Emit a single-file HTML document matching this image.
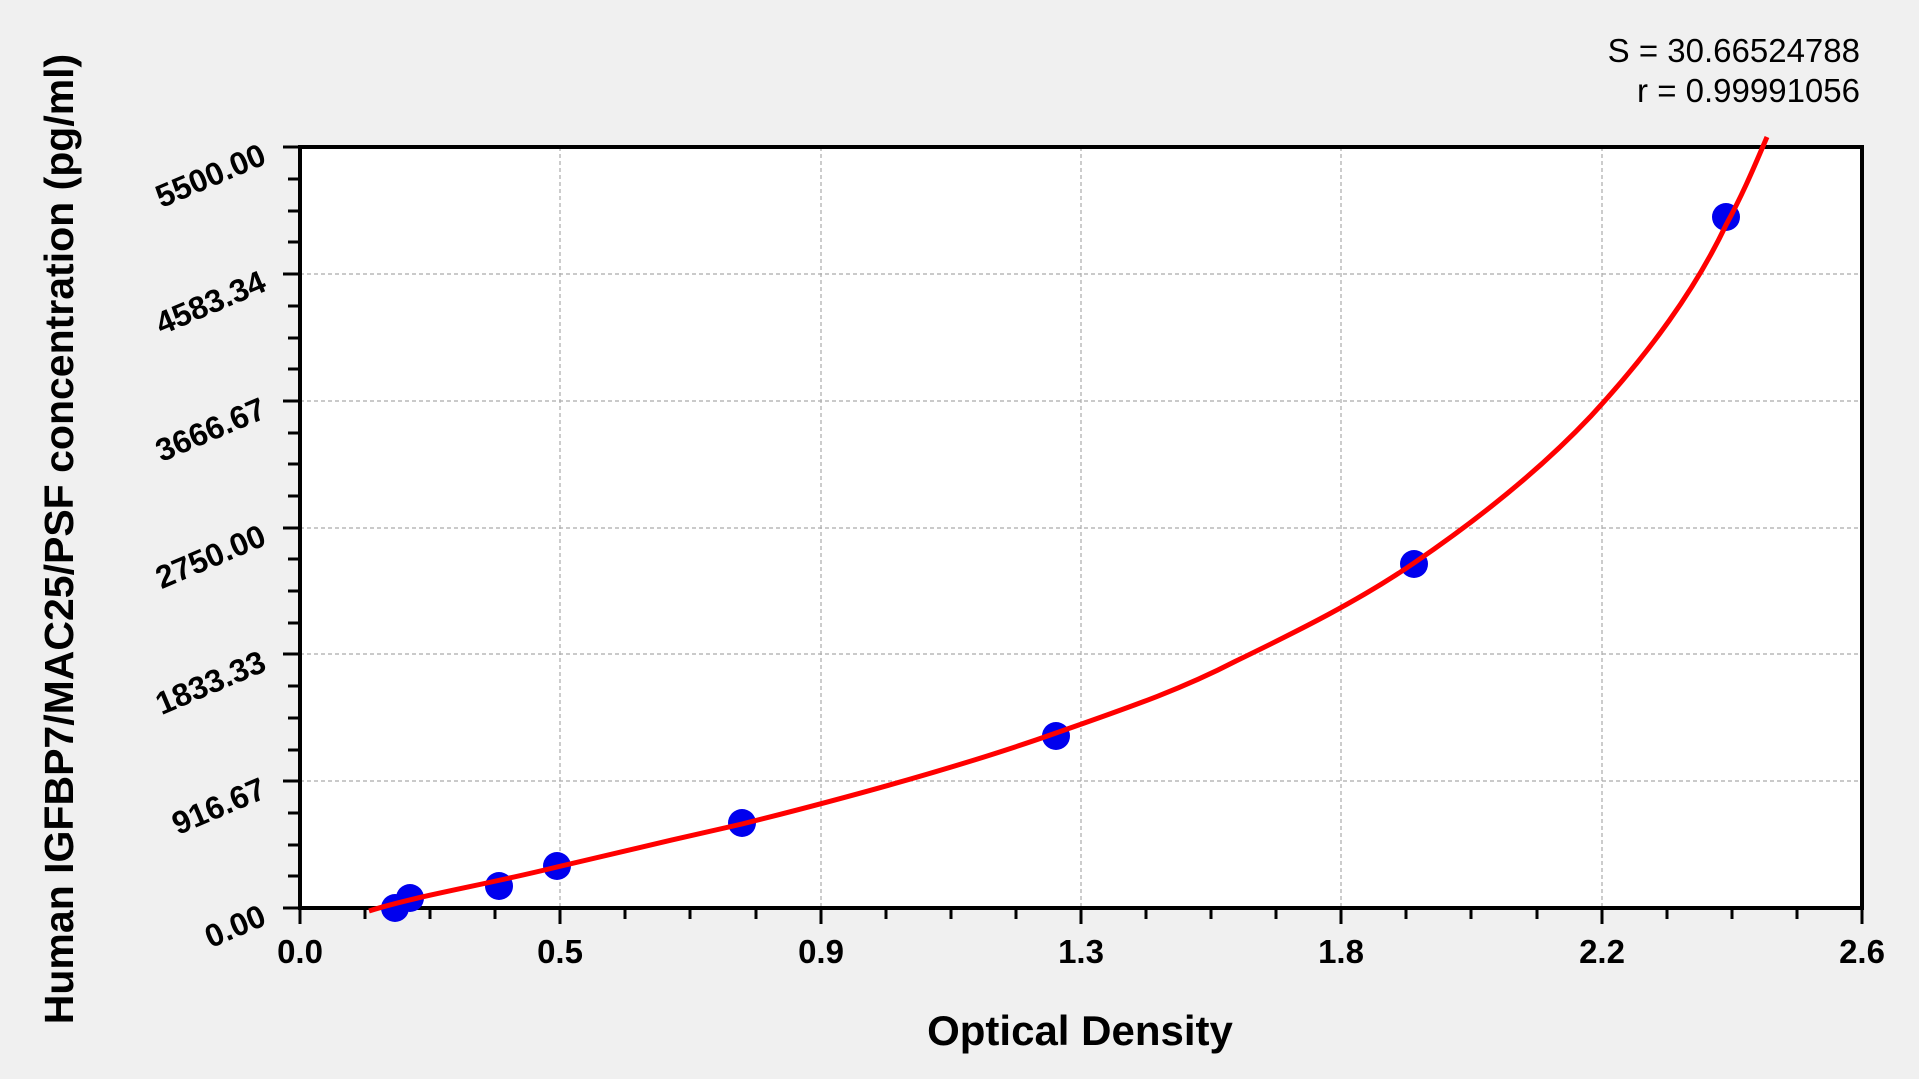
<!DOCTYPE html>
<html><head><meta charset="utf-8"><style>
html,body{margin:0;padding:0;background:#f0f0f0;}
svg{display:block;font-family:"Liberation Sans",sans-serif;}
</style></head><body>
<svg width="1919" height="1079" viewBox="0 0 1919 1079">
<rect x="0" y="0" width="1919" height="1079" fill="#f0f0f0"/>
<rect x="300" y="147" width="1562" height="761" fill="#fff"/>
<g stroke="#aaa" stroke-width="1.2" stroke-dasharray="4,3">
<line x1="560" y1="147" x2="560" y2="908"/><line x1="821" y1="147" x2="821" y2="908"/>
<line x1="1081" y1="147" x2="1081" y2="908"/><line x1="1341" y1="147" x2="1341" y2="908"/>
<line x1="1602" y1="147" x2="1602" y2="908"/>
<line x1="300" y1="274" x2="1862" y2="274"/><line x1="300" y1="401" x2="1862" y2="401"/>
<line x1="300" y1="528" x2="1862" y2="528"/><line x1="300" y1="654" x2="1862" y2="654"/>
<line x1="300" y1="781" x2="1862" y2="781"/>
</g>
<g stroke="#000" stroke-width="3">
<path d="M283 147H300M283 274H300M283 401H300M283 528H300M283 654H300M283 781H300M283 908H300"/>
<path d="M288 179H300M288 211H300M288 242H300M288 306H300M288 338H300M288 369H300M288 433H300M288 464H300M288 496H300M288 559H300M288 591H300M288 623H300M288 686H300M288 718H300M288 750H300M288 813H300M288 845H300M288 876H300"/>
<path d="M300 908V924M560 908V924M821 908V924M1081 908V924M1341 908V924M1602 908V924M1862 908V924"/>
<path d="M365 908V919M430 908V919M495 908V919M625 908V919M690 908V919M756 908V919M886 908V919M951 908V919M1016 908V919M1146 908V919M1211 908V919M1276 908V919M1406 908V919M1471 908V919M1537 908V919M1667 908V919M1732 908V919M1797 908V919"/>
</g>
<rect x="300" y="147" width="1562" height="761" fill="none" stroke="#000" stroke-width="4"/>
<g fill="#0000ee">
<circle cx="395" cy="908" r="14"/><circle cx="410" cy="898" r="14"/><circle cx="499" cy="886" r="14"/>
<circle cx="557" cy="866" r="14"/><circle cx="742" cy="823" r="14"/><circle cx="1056" cy="736" r="14"/>
<circle cx="1414" cy="564" r="14"/><circle cx="1726" cy="217" r="14"/>
</g>
<path d="M369 911 C420 895 480 886 557 867 C620 852 680 838 742 824 C850 797 960 767 1056 733 C1130 707 1180 690 1236 661 C1300 630 1360 600 1414 563 C1480 518 1540 470 1591 416 C1650 352 1695 290 1726 225 C1745 190 1757 160 1767 137" fill="none" stroke="#f00" stroke-width="5"/>
<g font-weight="bold" font-size="33" text-anchor="middle">
<text x="300" y="963">0.0</text><text x="560" y="963">0.5</text><text x="821" y="963">0.9</text>
<text x="1081" y="963">1.3</text><text x="1341" y="963">1.8</text><text x="1602" y="963">2.2</text><text x="1862" y="963">2.6</text>
</g>
<g font-weight="bold" font-size="32" text-anchor="end">
<text transform="translate(268,924) rotate(-23)">0.00</text>
<text transform="translate(268,797) rotate(-23)">916.67</text>
<text transform="translate(268,670) rotate(-23)">1833.33</text>
<text transform="translate(268,544) rotate(-23)">2750.00</text>
<text transform="translate(268,417) rotate(-23)">3666.67</text>
<text transform="translate(268,290) rotate(-23)">4583.34</text>
<text transform="translate(268,163) rotate(-23)">5500.00</text>
</g>
<text x="1080" y="1045" font-weight="bold" font-size="42" text-anchor="middle">Optical Density</text>
<text transform="translate(73,539) rotate(-90)" font-weight="bold" font-size="41" text-anchor="middle">Human IGFBP7/MAC25/PSF concentration (pg/ml)</text>
<g font-size="33" text-anchor="end">
<text x="1860" y="62">S = 30.66524788</text>
<text x="1860" y="102">r = 0.99991056</text>
</g>
</svg>
</body></html>
